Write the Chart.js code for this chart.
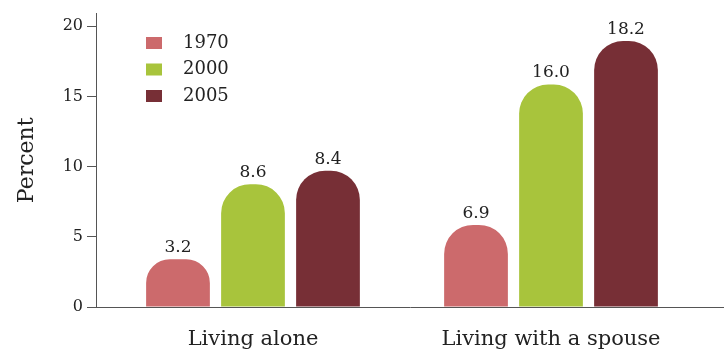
<!DOCTYPE html>
<html>
<head>
<meta charset="utf-8">
<script src="https://cdn.jsdelivr.net/npm/chart.js@4"></script>
<style>
  html, body { margin: 0; padding: 0; background: #fff; }
  #wrap { width: 724px; height: 351px; }
</style>
</head>
<body>
<div id="wrap"><canvas id="livingChart"></canvas></div>
<script>
const categories = ['Living alone', 'Living with a spouse'];
const years = ['1970', '2000', '2005'];
// bar heights as drawn in the picture
const values1970 = [3.4, 5.85];
const values2000 = [8.75, 15.85];
const values2005 = [9.7, 18.95];
// numbers printed above the bars
const labels1970 = ['3.2', '6.9'];
const labels2000 = ['8.6', '16.0'];
const labels2005 = ['8.4', '18.2'];
const yTicks = [0, 5, 10, 15, 20];
const colors = ['#cc6a6c', '#a8c43c', '#772f36'];

const serif = 'DejaVu Serif';
const inkColor = '#222';

let livingChart;

function toPoints(arr) {
    return arr.map((v, i) => ({ x: i, y: v }));
}

// prints the value text above each bar
const barValues = {
    id: 'barValues',
    afterDatasetsDraw(chart) {
        const ctx = chart.ctx;
        ctx.save();
        ctx.font = '17px "' + serif + '"';
        ctx.fillStyle = inkColor;
        ctx.textAlign = 'center';
        ctx.textBaseline = 'alphabetic';
        chart.data.datasets.forEach((ds, i) => {
            chart.getDatasetMeta(i).data.forEach((bar, j) => {
                ctx.fillText(ds.valueLabels[j], bar.x, bar.y - 7);
            });
        });
        ctx.restore();
    }
};

// vertical legend inside the plot, top left
const sideLegend = {
    id: 'sideLegend',
    afterDraw(chart) {
        const ctx = chart.ctx;
        const left = chart.chartArea.left + 50;
        ctx.save();
        ctx.font = '18px "' + serif + '"';
        ctx.textBaseline = 'middle';
        chart.data.datasets.forEach((ds, i) => {
            const y = 43 + i * 26.5;
            ctx.fillStyle = ds.backgroundColor;
            ctx.fillRect(left, y - 6, 16, 12);
            ctx.fillStyle = inkColor;
            ctx.fillText(ds.label, left + 37, y);
        });
        ctx.restore();
    }
};

function initializeChart() {
    const ctx = document.getElementById('livingChart').getContext('2d');
    const seriesValues = [values1970, values2000, values2005];
    const seriesLabels = [labels1970, labels2000, labels2005];

    livingChart = new Chart(ctx, {
        type: 'bar',
        data: {
            datasets: years.map((year, i) => ({
                label: year,
                data: toPoints(seriesValues[i]),
                valueLabels: seriesLabels[i],
                backgroundColor: colors[i],
                borderRadius: 29,
                categoryPercentage: 0.755,
                barPercentage: 0.85
            }))
        },
        options: {
            responsive: true,
            maintainAspectRatio: false,
            animation: false,
            layout: { padding: { top: 10, right: 0, bottom: 0, left: 0 } },
            plugins: {
                legend: { display: false },
                tooltip: { enabled: false }
            },
            scales: {
                x: {
                    type: 'linear',
                    offset: false,
                    min: -0.5268,
                    max: 1.5805,
                    grid: { display: false, offset: false },
                    border: { display: true, color: '#555', width: 1 },
                    afterBuildTicks: (s) => { s.ticks = categories.map((c, i) => ({ value: i })); },
                    afterFit: (s) => { s.height = 44; },
                    ticks: {
                        padding: 12,
                        color: inkColor,
                        font: { family: serif, size: 21 },
                        callback: (v) => categories[v]
                    }
                },
                y: {
                    min: 0,
                    max: 20.9,
                    afterBuildTicks: (s) => { s.ticks = yTicks.map(v => ({ value: v })); },
                    afterFit: (s) => { s.width = 96; },
                    grid: { drawOnChartArea: false, tickLength: 9, color: '#555' },
                    border: { display: true, color: '#555', width: 1 },
                    ticks: {
                        padding: 4,
                        color: inkColor,
                        font: { family: serif, size: 16 }
                    },
                    title: {
                        display: true,
                        text: 'Percent',
                        color: inkColor,
                        font: { family: serif, size: 22 },
                        padding: { top: 14, bottom: 0 }
                    }
                }
            }
        },
        plugins: [barValues, sideLegend]
    });
}

initializeChart();
</script>
</body>
</html>
